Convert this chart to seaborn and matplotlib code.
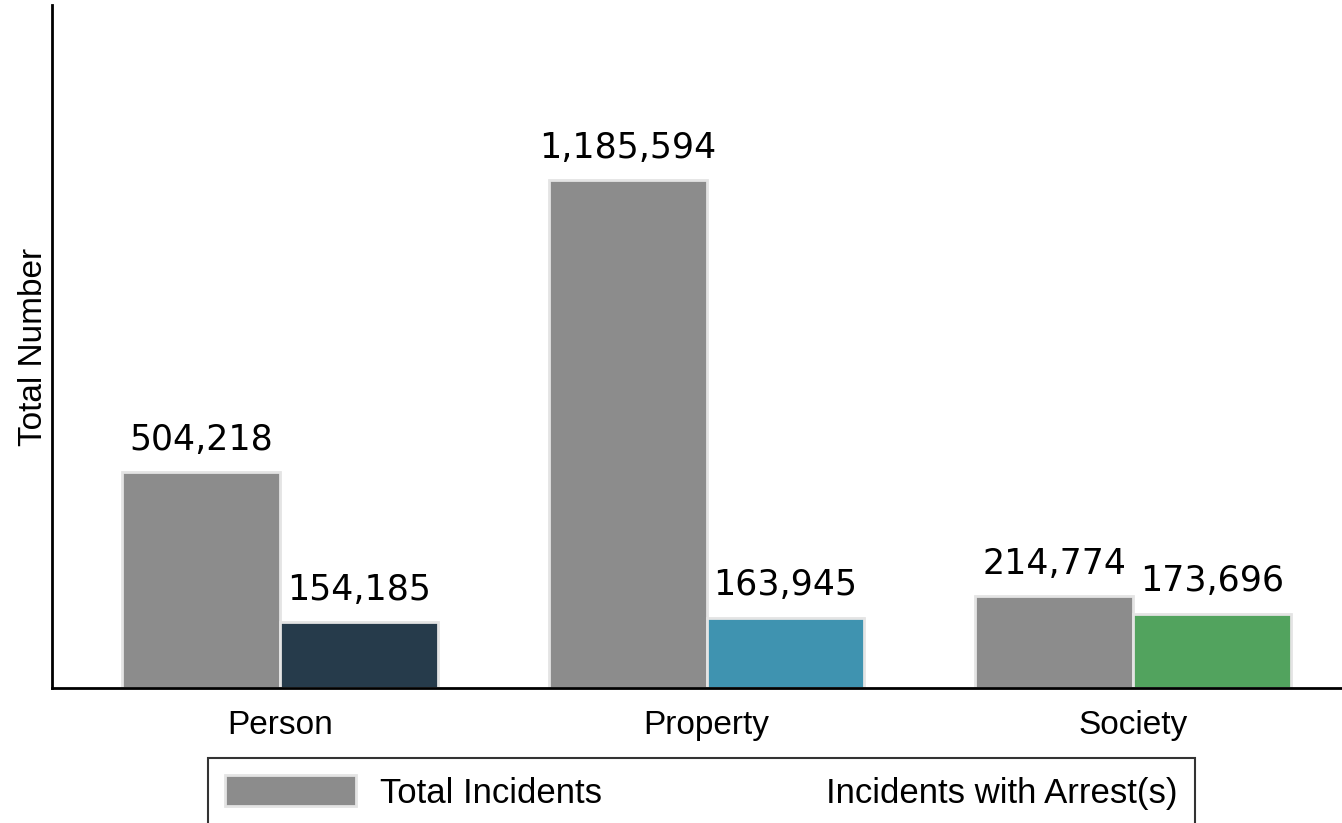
import matplotlib
matplotlib.use("Agg")
import matplotlib.pyplot as plt
import seaborn as sns
import pandas as pd
from matplotlib.patches import Patch

categories = ["Person", "Property", "Society"]
total_incidents = [504218, 1185594, 214774]
arrest_incidents = [154185, 163945, 173696]
series_names = ["Total Incidents", "Incidents with Arrest(s)"]
arrest_colors = ["#263b4b", "#3f93b0", "#52a35e"]
total_color = "#8c8c8c"

df = pd.DataFrame({
    "category": categories * 2,
    "value": total_incidents + arrest_incidents,
    "series": [series_names[0]] * 3 + [series_names[1]] * 3,
})

sns.set_style("white")
plt.rcParams["font.family"] = ["Liberation Sans", "DejaVu Sans"]
plt.rcParams["text.color"] = "black"
plt.rcParams["axes.labelcolor"] = "black"
plt.rcParams["xtick.color"] = "black"

fig = plt.figure(figsize=(13.42, 8.23), dpi=100)
ax = fig.add_axes([0.0387, 0.164, 0.9613, 0.830])

sns.barplot(data=df, x="category", y="value", hue="series",
            palette={series_names[0]: total_color, series_names[1]: "white"},
            width=0.74, edgecolor="#e4e4e4", linewidth=2, ax=ax, legend=False)

# color the arrest bars per category
for patch, col in zip(ax.containers[1], arrest_colors):
    patch.set_facecolor(col)

for cont in ax.containers:
    ax.bar_label(cont, labels=[f"{v:,.0f}" for v in cont.datavalues],
                 padding=11, fontsize=25, family="DejaVu Sans", color="black")

ax.set_ylim(0, 1594000)
ax.set_xlim(-0.535, 2.49)
ax.set_yticks([])
ax.set_xlabel("")
ax.set_ylabel("Total Number", fontsize=24, labelpad=2)
ax.tick_params(axis="x", length=0, labelsize=24, pad=16)

sns.despine(ax=ax, top=True, right=True)
for side in ["left", "bottom"]:
    ax.spines[side].set_color("black")
    ax.spines[side].set_linewidth(2)

handles = [Patch(facecolor=total_color, edgecolor="#e4e4e4", linewidth=2),
           Patch(facecolor="white", edgecolor="white")]
leg = fig.legend(handles, series_names, ncol=2, loc="upper left",
                 bbox_to_anchor=(0.155, 0.079), frameon=True, fancybox=False,
                 fontsize=25, handlelength=3.75, handleheight=1.0,
                 columnspacing=2.0, handletextpad=0.7, borderpad=0.5,
                 borderaxespad=0)
leg.get_frame().set_edgecolor("black")
leg.get_frame().set_linewidth(1.5)

fig.savefig("out.png", dpi=100)
